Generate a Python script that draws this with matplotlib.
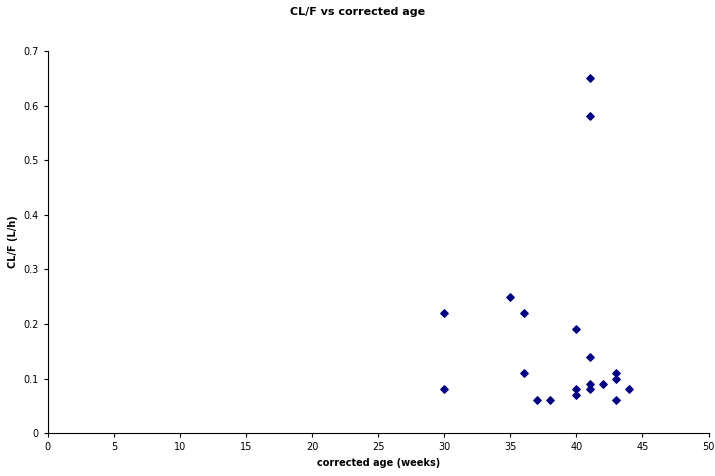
import matplotlib
matplotlib.use("Agg")
import matplotlib.pyplot as plt

age = [30,30,35,36,36,37,38,40,40,40,41,41,41,41,41,42,43,43,43,44]
clf = [0.22,0.08,0.25,0.22,0.11,0.06,0.06,0.19,0.08,0.07,0.65,0.58,0.14,0.09,0.08,0.09,0.11,0.10,0.06,0.08]

fig = plt.figure(figsize=(7.15,4.76), dpi=100)
ax = fig.add_axes([0.067, 0.09, 0.924, 0.803])
ax.scatter(age, clf, marker='D', s=14, color='#000080', zorder=3)
ax.set_xlim(0,50); ax.set_ylim(0,0.7)
ax.set_xticks(range(0,51,5))
ax.set_yticks([i/10 for i in range(8)])
ax.set_yticklabels(['0']+[f'{i/10:.1f}' for i in range(1,8)])
for s in ['top','right']: ax.spines[s].set_visible(False)
ax.tick_params(labelsize=7, length=3)
ax.set_xlabel('corrected age (weeks)', fontsize=7, fontweight='bold')
ax.set_ylabel('CL/F (L/h)', fontsize=7, fontweight='bold')
fig.suptitle('CL/F vs corrected age', fontsize=8, fontweight='bold', y=0.985)
fig.savefig('out.png', dpi=100)
